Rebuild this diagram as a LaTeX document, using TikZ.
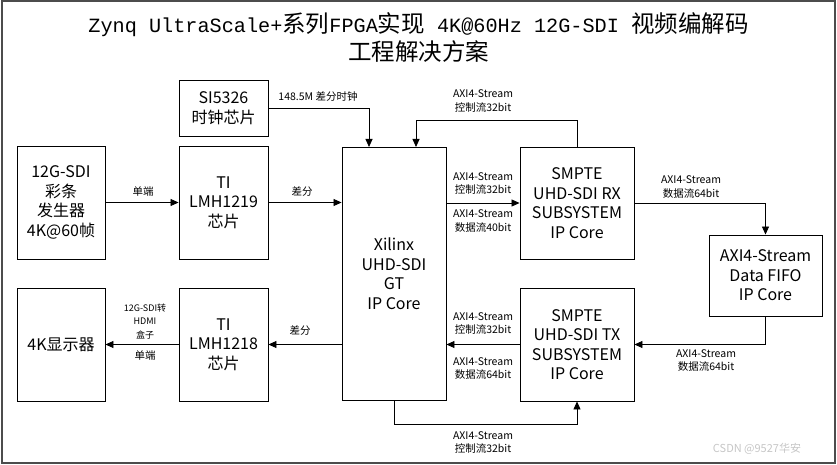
\documentclass[tikz,border=0pt]{standalone}
\usepackage{fontspec}
\setmainfont{Noto Sans CJK SC}
\newfontfamily\titlelatin{Liberation Mono}[Scale=0.86]
\usetikzlibrary{arrows.meta}

\tikzset{
  blk/.style={draw=black, line width=0.9pt, align=center, inner sep=0pt,
    font=\fontsize{16}{19.5}\selectfont},
  lbl/.style={align=center, inner sep=0pt, font=\fontsize{10.5}{13.5}\selectfont},
}

\begin{document}
\begin{tikzpicture}[x=1pt, y=-1pt, >={Triangle[length=8pt,width=7pt]}, line width=0.8pt]
      \useasboundingbox (0,0) rectangle (837,465);
      \draw[gray!60!black, line width=1.5pt] (2,1) rectangle (835,463);

      \node[align=center, font=\fontsize{23.5}{28}\selectfont] (title) at (418.5,38)
        {{\titlelatin Zynq UltraScale+}系列{\titlelatin FPGA}实现{\titlelatin\ 4K@60Hz 12G-SDI }视频编解码\\工程解决方案};

      \node[blk, minimum width=88pt, minimum height=113pt] (gen) at (61,202.5) {12G-SDI\\彩条\\发生器\\4K@60帧};
      \node[blk, minimum width=89pt, minimum height=56pt] (si) at (223.5,108) {SI5326\\时钟芯片};
      \node[blk, minimum width=89pt, minimum height=113pt] (rxchip) at (223.5,202.5) {TI\\LMH1219\\芯片};
      \node[blk, minimum width=104pt, minimum height=253pt] (gt) at (394,273.5) {Xilinx\\UHD-SDI\\GT\\IP Core};
      \node[blk, minimum width=114pt, minimum height=112pt] (rx) at (577,203) {SMPTE\\UHD-SDI RX\\SUBSYSTEM\\IP Core};
      \node[blk, minimum width=113pt, minimum height=81pt] (fifo) at (765.5,275.5) {AXI4-Stream\\Data FIFO\\IP Core};
      \node[blk, minimum width=114pt, minimum height=113pt] (tx) at (577,344.5) {SMPTE\\UHD-SDI TX\\SUBSYSTEM\\IP Core};
      \node[blk, minimum width=88pt, minimum height=113pt] (disp) at (61,344.5) {4K显示器};
      \node[blk, minimum width=89pt, minimum height=113pt] (txchip) at (223.5,344.5) {TI\\LMH1218\\芯片};

      \coordinate (clkin) at (369,147);
      \coordinate (fbin) at (416,147);

      \draw[->] (gen) -- (rxchip);
      \draw[->] (rxchip.east) -- (rxchip.east -| gt.west);
      \draw[->] (si.east) -| (clkin);
      \draw[->] (rx.north) -- ++(0,-26) -| (fbin);
      \draw[->] (gt.east |- rx.west) -- (rx.west);
      \draw[->] (rx.east) -| (fifo.north);
      \draw[->] (fifo.south) |- (tx.east);
      \draw[->] (tx.west) -- (tx.west -| gt.east);
      \draw[->] (gt.south) -- ++(0,24) -| (tx.south);
      \draw[->] (gt.west |- txchip.east) -- (txchip.east);
      \draw[->] (txchip) -- (disp);

      \node[lbl] (clklbl) at (318,97) {148.5M 差分时钟};
      \node[lbl] (fblbl) at (483,101) {AXI4-Stream\\控制流32bit};
      \node[lbl] (selbl) at (143,192) {单端};
      \node[lbl] (difflbl) at (302,192) {差分};
      \node[lbl] (rxctl) at (483,183.5) {AXI4-Stream\\控制流32bit};
      \node[lbl] (rxdat) at (483,221) {AXI4-Stream\\数据流40bit};
      \node[lbl] (fifoin) at (691,187) {AXI4-Stream\\数据流64bit};
      \node[lbl] (fifoout) at (706,360.5) {AXI4-Stream\\数据流64bit};
      \node[lbl] (txctl) at (483,323.5) {AXI4-Stream\\控制流32bit};
      \node[lbl] (txdat) at (483,368.5) {AXI4-Stream\\数据流64bit};
      \node[lbl] (looplbl) at (483,442.5) {AXI4-Stream\\控制流32bit};
      \node[lbl] (diff2lbl) at (300,331) {差分};
      \node[lbl, font=\fontsize{9}{13.5}\selectfont] (boxlbl) at (145,321.5) {12G-SDI转\\HDMI\\盒子};
      \node[lbl] (se2lbl) at (145,356) {单端};

      \node[text=gray!45, font=\fontsize{11}{13}\selectfont] (mark) at (757,449) {CSDN @9527华安};
    \end{tikzpicture}
\end{document}
